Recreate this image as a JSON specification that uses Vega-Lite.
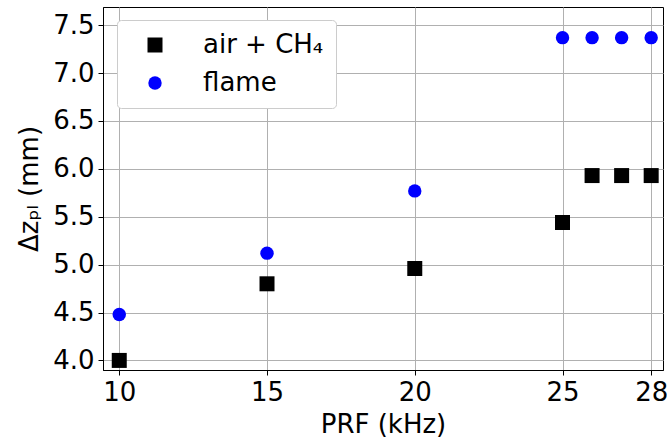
{
  "$schema": "https://vega.github.io/schema/vega-lite/v6.json",
  "width": 560,
  "height": 363,
  "autosize": {"type": "none"},
  "padding": {"left": 103, "top": 7, "right": 4, "bottom": 73},
  "background": "white",
  "config": {
    "font": "DejaVu Sans",
    "view": {"stroke": "black", "strokeWidth": 1},
    "axis": {
      "labelFont": "DejaVu Sans",
      "titleFont": "DejaVu Sans",
      "labelFontSize": 26,
      "titleFontSize": 26,
      "titleFontWeight": "normal",
      "labelColor": "black",
      "titleColor": "black",
      "domainColor": "black",
      "tickColor": "black",
      "tickSize": 5,
      "gridColor": "#b0b0b0",
      "gridWidth": 1,
      "labelPadding": 4
    }
  },
  "data": {
    "values": [
      {"prf": 10, "dz": 4.0, "series": "air + CH₄"},
      {"prf": 15, "dz": 4.8, "series": "air + CH₄"},
      {"prf": 20, "dz": 4.96, "series": "air + CH₄"},
      {"prf": 25, "dz": 5.44, "series": "air + CH₄"},
      {"prf": 26, "dz": 5.93, "series": "air + CH₄"},
      {"prf": 27, "dz": 5.93, "series": "air + CH₄"},
      {"prf": 28, "dz": 5.93, "series": "air + CH₄"},
      {"prf": 10, "dz": 4.48, "series": "flame"},
      {"prf": 15, "dz": 5.12, "series": "flame"},
      {"prf": 20, "dz": 5.77, "series": "flame"},
      {"prf": 25, "dz": 7.37, "series": "flame"},
      {"prf": 26, "dz": 7.37, "series": "flame"},
      {"prf": 27, "dz": 7.37, "series": "flame"},
      {"prf": 28, "dz": 7.37, "series": "flame"}
    ]
  },
  "mark": {"type": "point", "filled": true, "opacity": 1},
  "encoding": {
    "x": {
      "field": "prf",
      "type": "quantitative",
      "scale": {"domain": [9.45, 28.4], "nice": false, "zero": false},
      "axis": {"values": [10, 15, 20, 25, 28], "title": "PRF (kHz)", "titlePadding": 6}
    },
    "y": {
      "field": "dz",
      "type": "quantitative",
      "scale": {"domain": [3.9, 7.69], "nice": false, "zero": false},
      "axis": {"values": [4.0, 4.5, 5.0, 5.5, 6.0, 6.5, 7.0, 7.5], "format": ".1f", "title": "Δzₚₗ (mm)", "titlePadding": 10}
    },
    "color": {
      "field": "series",
      "type": "nominal",
      "scale": {"domain": ["air + CH₄", "flame"], "range": ["black", "blue"]},
      "legend": {
        "title": null,
        "orient": "none",
        "legendX": 14,
        "legendY": 13,
        "padding": 12,
        "fillColor": "white",
        "strokeColor": "#cccccc",
        "cornerRadius": 4,
        "labelFontSize": 26,
        "labelFont": "DejaVu Sans",
        "labelColor": "black",
        "symbolSize": 225,
        "symbolOffset": 13,
        "labelOffset": 35,
        "rowPadding": 12,
        "symbolStrokeWidth": 0
      }
    },
    "shape": {
      "field": "series",
      "type": "nominal",
      "scale": {"domain": ["air + CH₄", "flame"], "range": ["square", "circle"]},
      "legend": null
    },
    "size": {
      "field": "series",
      "type": "nominal",
      "scale": {"domain": ["air + CH₄", "flame"], "range": [225, 180]},
      "legend": null
    }
  }
}
